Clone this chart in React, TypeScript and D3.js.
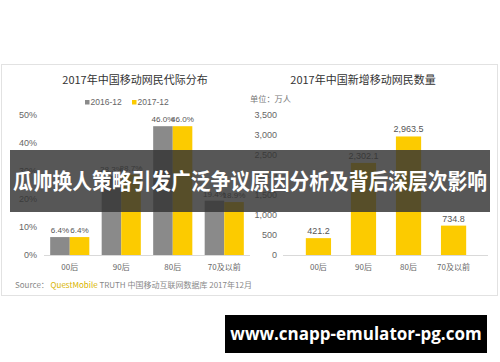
import React from 'react';
import * as d3 from 'd3';

const categories = ['00后', '90后', '80后', '70及以前'];
const series2016 = [6.4, 28.3, 46.0, 19.4];
const series2017 = [6.4, 28.7, 46.0, 18.9];
const seriesNames = ['2016-12', '2017-12'];
const pctTicks = [0, 10, 20, 30, 40, 50];
const newUsers = [421.2, 2302.1, 2963.5, 734.8];
const userTicks = [0, 500, 1000, 1500, 2000, 2500, 3000, 3500];

const GREY = '#8a8a8a';
const YELLOW = '#fccb00';
const CJK = '"Noto Sans CJK SC", "Noto Sans", sans-serif';
const NUM = '"Liberation Sans", Arial, sans-serif';

const W = 500;
const H = 362;

const App: React.FC = () => {
  // left chart scales
  const yL = d3.scaleLinear().domain([0, 50]).range([255, 115]);
  const xL = d3.scaleBand<string>().domain(categories).range([44, 250]).paddingInner(0.24).paddingOuter(0.12);
  const xSub = d3.scaleBand<string>().domain(seriesNames).range([0, xL.bandwidth()]);

  // right chart scales
  const yR = d3.scaleLinear().domain([0, 3500]).range([255, 115]);
  const xR = d3.scaleBand<string>().domain(categories).range([286, 486]).padding(0.44);

  const fmtPct = (v: number) => `${v.toFixed(1)}%`;
  const fmtNum = d3.format(',.1f');
  const fmtTick = d3.format(',');

  const grouped = categories.map((c, i) => ({ c, vals: [series2016[i], series2017[i]] }));

  return (
    <svg width={W} height={H} style={{ position: 'absolute', left: 0, top: 0, background: '#fff' }} fontFamily={CJK}>
      <rect x={0} y={0} width={W} height={H} fill="#fff" />
      {/* panel */}
      <rect x={1.5} y={64.5} width={496} height={231} fill="#fff" stroke="#e2e2e2" />

      {/* ---------- left chart ---------- */}
      <text x={135} y={84} textAnchor="middle" fontSize={11} fill="#333">2017年中国移动网民代际分布</text>
      <g fontSize={8.5} fill="#666" fontFamily={NUM}>
        <rect x={85} y={100} width={4.5} height={4.5} fill={GREY} />
        <text x={90.5} y={105}>{seriesNames[0]}</text>
        <rect x={132} y={100} width={4.5} height={4.5} fill={YELLOW} />
        <text x={137.5} y={105}>{seriesNames[1]}</text>
      </g>
      <g fontSize={9} fill="#666" textAnchor="end" fontFamily={NUM}>
        {pctTicks.map((t) => (
          <text key={t} x={37} y={yL(t) + 3}>{`${t}%`}</text>
        ))}
      </g>
      {grouped.map((g) => (
        <g key={g.c} transform={`translate(${xL(g.c)},0)`}>
          {g.vals.map((v, j) => (
            <g key={j}>
              <rect
                x={xSub(seriesNames[j])}
                y={yL(v)}
                width={xSub.bandwidth()}
                height={yL(0) - yL(v)}
                fill={j === 0 ? GREY : YELLOW}
              />
              <text
                x={(xSub(seriesNames[j]) ?? 0) + xSub.bandwidth() / 2}
                y={yL(v) - 4}
                textAnchor="middle"
                fontSize={8.1}
                fontFamily={NUM}
                fill="#555"
              >
                {fmtPct(v)}
              </text>
            </g>
          ))}
        </g>
      ))}
      <line x1={44} x2={250} y1={255.5} y2={255.5} stroke="#d9d9d9" />
      <g fontSize={8} fill="#666" textAnchor="middle">
        {categories.map((c) => (
          <text key={c} x={(xL(c) ?? 0) + xL.bandwidth() / 2} y={270}>{c}</text>
        ))}
      </g>

      {/* ---------- right chart ---------- */}
      <text x={363} y={84} textAnchor="middle" fontSize={11} fill="#333">2017年中国新增移动网民数量</text>
      <text x={250} y={102} fontSize={8.2} fill="#777">单位：万人</text>
      <g fontSize={9} fill="#666" textAnchor="end" fontFamily={NUM}>
        {userTicks.map((t) => (
          <text key={t} x={277} y={yR(t) + 3}>{fmtTick(t)}</text>
        ))}
      </g>
      {categories.map((c, i) => (
        <g key={c}>
          <rect x={xR(c)} y={yR(newUsers[i])} width={xR.bandwidth()} height={yR(0) - yR(newUsers[i])} fill={YELLOW} />
          <text x={(xR(c) ?? 0) + xR.bandwidth() / 2} y={yR(newUsers[i]) - 4} textAnchor="middle" fontSize={9} fontFamily={NUM} fill="#555">
            {fmtNum(newUsers[i])}
          </text>
        </g>
      ))}
      <line x1={283} x2={488} y1={255.5} y2={255.5} stroke="#d9d9d9" />
      <g fontSize={8} fill="#666" textAnchor="middle">
        {categories.map((c) => (
          <text key={c} x={(xR(c) ?? 0) + xR.bandwidth() / 2} y={270}>{c}</text>
        ))}
      </g>

      {/* source */}
      <text x={15} y={288} fontSize={8} fill="#888">
        Source：
        <tspan fill="#d8b400"> QuestMobile</tspan>
        <tspan fill="#888"> TRUTH 中国移动互联网数据库 2017年12月</tspan>
      </text>

      {/* headline banner */}
      <rect x={10} y={150} width={480} height={62} fill="rgba(50,50,50,0.82)" />
      <text x={13} y={189} fontSize={21.6} fontWeight={700} fill="#fff" textLength={474} lengthAdjust="spacingAndGlyphs">
        瓜帅换人策略引发广泛争议原因分析及背后深层次影响
      </text>

      {/* footer watermark */}
      <rect x={225} y={315} width={262} height={38} fill="#000" />
      <text x={356} y={340} textAnchor="middle" fontSize={17} fontWeight={700} fill="#fff" fontFamily='"Open Sans", "DejaVu Sans", sans-serif'>
        www.cnapp-emulator-pg.com
      </text>
    </svg>
  );
};

export default App;
